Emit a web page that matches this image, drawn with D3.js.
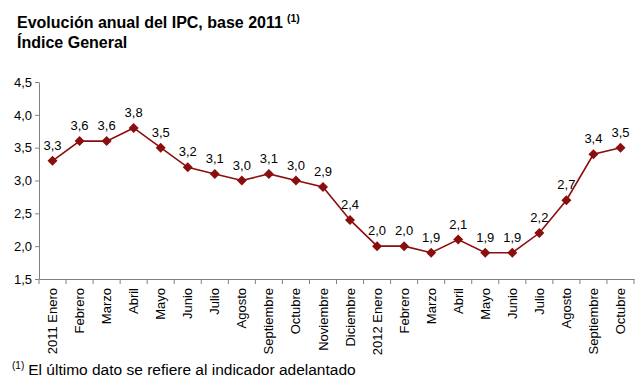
<!DOCTYPE html>
<html><head><meta charset="utf-8">
<script src="https://cdn.jsdelivr.net/npm/d3@7"></script>
<style>body{margin:0;background:#fff}svg{display:block;font-family:"Liberation Sans",Arial,sans-serif}</style>
</head><body><svg id="c" width="639" height="386"></svg>
<script>
const categories = ["2011 Enero","Febrero","Marzo","Abril","Mayo","Junio","Julio","Agosto","Septiembre","Octubre","Noviembre","Diciembre","2012 Enero","Febrero","Marzo","Abril","Mayo","Junio","Julio","Agosto","Septiembre","Octubre"];
const values = [3.3,3.6,3.6,3.8,3.5,3.2,3.1,3.0,3.1,3.0,2.9,2.4,2.0,2.0,1.9,2.1,1.9,1.9,2.2,2.7,3.4,3.5];
const yTicks = [1.5,2.0,2.5,3.0,3.5,4.0,4.5];
const titleLines = ["Evolución anual del IPC, base 2011","Índice General"];
const footnote = "El último dato se refiere al indicador adelantado";

const svg = d3.select("#c");
const color = "#8B0E0E";
const axisColor = "#808080";
const idx = categories.map((d,i)=>i);
const x = d3.scaleBand().domain(idx).range([39,634]);
const y = d3.scaleLinear().domain([1.5,4.5]).range([279,82]);
const fmt = v => d3.format(".1f")(v).replace(".",",");

// title
const t = svg.append("text").attr("x",17).attr("y",28).attr("font-size",16).attr("font-weight","bold").attr("fill","#000");
t.append("tspan").text(titleLines[0]);
t.append("tspan").attr("dy",-6).attr("dx",4).attr("font-size",10.5).text("(1)");
svg.append("text").attr("x",17).attr("y",48).attr("font-size",16).attr("font-weight","bold").text(titleLines[1]);

// y axis
const yAxis = svg.append("g").attr("transform","translate(39,0)")
  .call(d3.axisLeft(y).tickValues(yTicks).tickFormat(fmt).tickSize(4).tickSizeOuter(0));
yAxis.select(".domain").attr("stroke",axisColor);
yAxis.selectAll(".tick line").attr("stroke",axisColor);
yAxis.selectAll(".tick text").attr("font-size",13).attr("fill","#000").attr("x",-7).attr("font-family","Liberation Sans, Arial, sans-serif");

// x axis
const xAxis = svg.append("g").attr("transform","translate(0,279)")
  .call(d3.axisBottom(x).tickFormat(i=>categories[i]).tickSize(0).tickSizeOuter(0));
xAxis.select(".domain").attr("stroke",axisColor);
xAxis.selectAll(".tick text").attr("font-size",13).attr("fill","#000")
  .attr("font-family","Liberation Sans, Arial, sans-serif")
  .attr("transform","rotate(-90)").attr("text-anchor","end").attr("x",-9).attr("y",0).attr("dy","0.35em");
// boundary ticks
const bounds = idx.map(i=>x(i)).concat([x.range()[1]]);
svg.append("g").selectAll("line").data(bounds).join("line")
  .attr("x1",d=>d).attr("x2",d=>d).attr("y1",279).attr("y2",284).attr("stroke",axisColor);

// line
const cx = i => x(i)+x.bandwidth()/2;
svg.append("path").datum(values).attr("fill","none").attr("stroke",color).attr("stroke-width",1.6)
  .attr("d",d3.line().x((d,i)=>cx(i)).y(d=>y(d)));
svg.append("g").selectAll("path").data(values).join("path")
  .attr("d",d3.symbol(d3.symbolSquare,50)).attr("fill",color)
  .attr("transform",(d,i)=>`translate(${cx(i)},${y(d)}) rotate(45)`);
svg.append("g").selectAll("text").data(values).join("text")
  .attr("x",(d,i)=>cx(i)).attr("y",d=>y(d)-11).attr("text-anchor","middle")
  .attr("font-size",13).attr("fill","#000").text(fmt);

// footnote
const f = svg.append("text").attr("x",12).attr("y",375).attr("font-size",15.5);
f.append("tspan").attr("font-size",10).attr("dy",-6).text("(1)");
f.append("tspan").attr("dy",6).attr("dx",4).text(footnote);
</script></body></html>
